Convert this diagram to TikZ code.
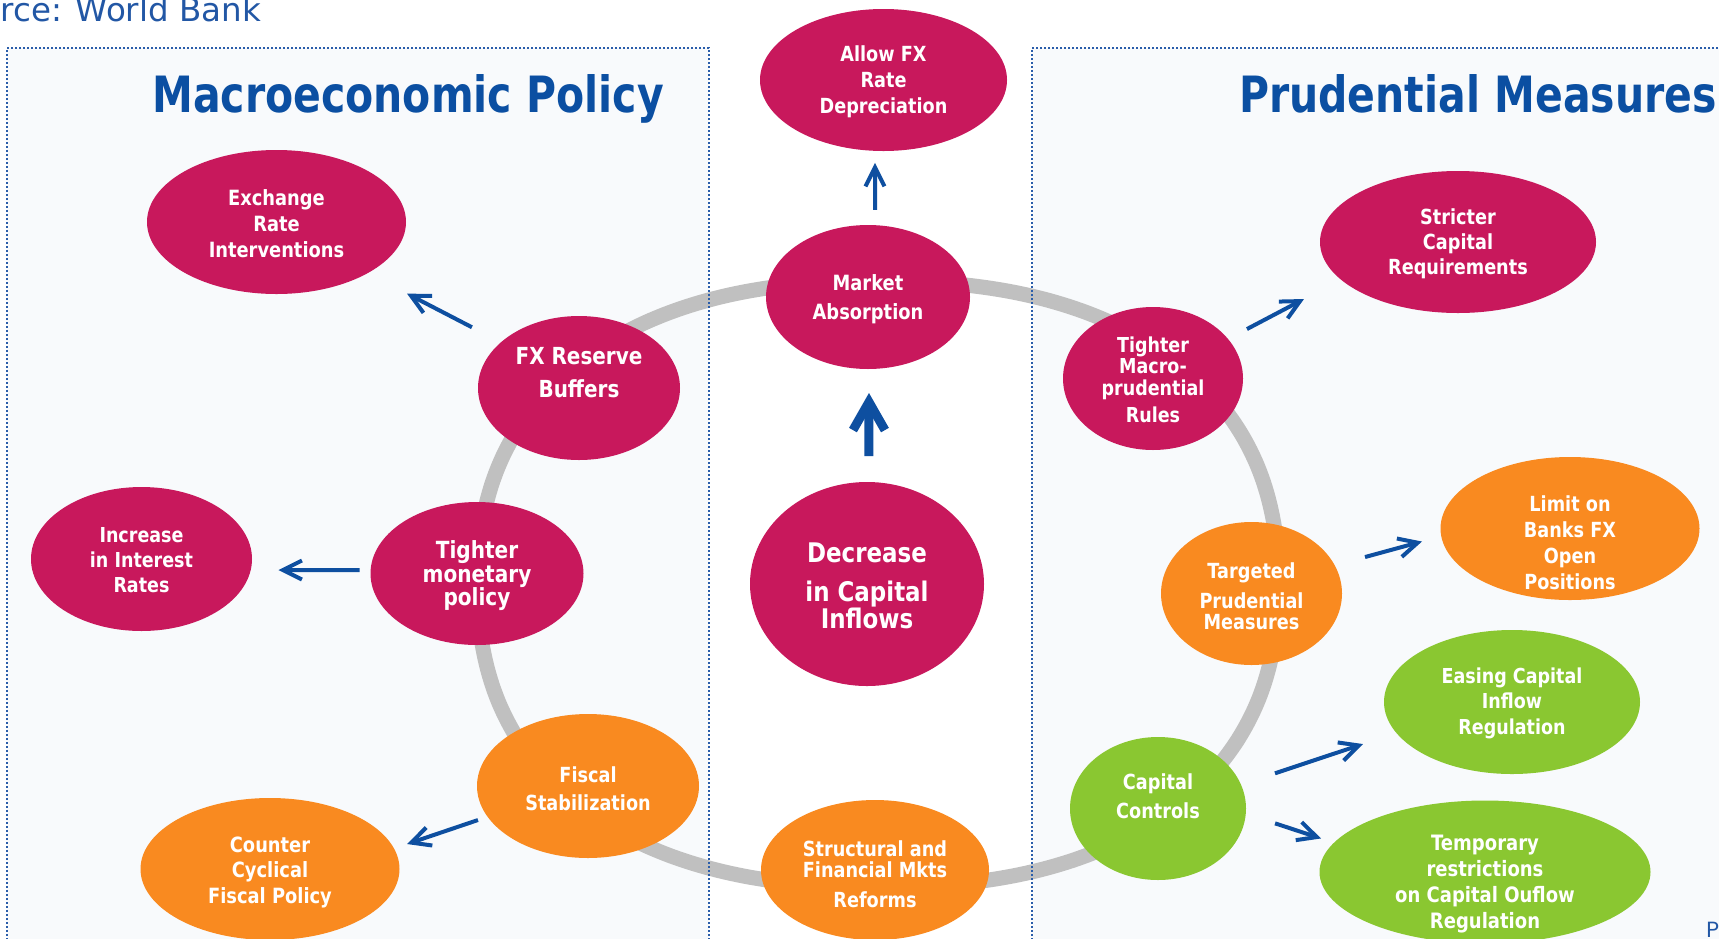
\documentclass[tikz,border=0pt]{standalone}
\usepackage{fontspec}
\usetikzlibrary{shapes.geometric,arrows.meta,calc}
\newfontfamily\nodefont[FakeStretch=0.85]{DejaVu Sans}
\newfontfamily\titlefont[FakeStretch=0.82]{DejaVu Sans}
\newfontfamily\srcfont{DejaVu Sans}
\newfontfamily\pfont{Poppins}
\definecolor{mag}{HTML}{C8185C}
\definecolor{org}{HTML}{F98A20}
\definecolor{grn}{HTML}{8AC731}
\definecolor{arrblue}{HTML}{0E4FA0}
\definecolor{ttlblue}{HTML}{0B4FA2}
\definecolor{dotblue}{HTML}{2A5DAA}
\definecolor{srcblue}{HTML}{2257A5}
\definecolor{ringgray}{HTML}{C0C0C0}
\definecolor{panelbg}{HTML}{F8FAFC}
\tikzset{
  bub/.style n args={3}{ellipse, fill=#1, draw=none, inner sep=0pt, minimum width=#2*0.5pt, minimum height=#3*0.5pt},
  txt/.style n args={2}{text=white, align=center, inner sep=0pt, yshift=-1.25pt, font={\nodefont\bfseries\fontsize{#1pt}{#2pt}\selectfont}},
  arr/.style={draw=arrblue, line width=2pt, -{Straight Barb[length=9.5pt,width=9.5pt]}},
  bigarr/.style={draw=arrblue, line width=4.5pt, -{Straight Barb[length=14pt,width=16pt]}},
  panel/.style={fill=panelbg, draw=none},
  paneledge/.style={draw=dotblue, line width=1pt, dash pattern=on 1pt off 1pt},
  ringline/.style={draw=ringgray, line width=7.5pt},
  ttl/.style={text=ttlblue, inner sep=0pt, anchor=base, font={\titlefont\bfseries\fontsize{25pt}{30pt}\selectfont}},
}
\begin{document}
\begin{tikzpicture}[x=0.5pt,y=-0.5pt]
\useasboundingbox (0,0) rectangle (1719,938);
\clip (0,0) rectangle (1719,938);
\fill[white] (0,0) rectangle (1719,938);
\path[panel] (7,48) rectangle (709,960);
\path[panel] (1032,48) rectangle (1740,960);
% ring (slightly squarish ellipse)
\draw[ringline] plot[smooth cycle, domain=1:358, samples=120, variable=\t]
  ({878+400*sign(cos(\t))*pow(abs(cos(\t)),0.87)}, {584+303*sign(sin(\t))*pow(abs(sin(\t)),0.87)});
\draw[paneledge] (7,960) -- (7,48) -- (709,48) -- (709,960);
\draw[paneledge] (1032,960) -- (1032,48) -- (1740,48);
% titles
\node[anchor=base west, inner sep=0pt, text=srcblue, font={\srcfont\fontsize{16.25pt}{20pt}\selectfont}] (src) at (-61,21) {Source: World Bank};
\node[ttl] (t1) at (408,112) {Macroeconomic Policy};
\node[ttl] (t2) at (1478,112) {Prudential Measures};
\node[anchor=north west, inner sep=0pt, text=srcblue, font={\pfont\fontsize{11pt}{13pt}\selectfont}] (pg) at (1706,922) {P};
% bubbles
\node[bub={mag}{247}{142}] (allow) at (883.5,80) {};
\node[bub={mag}{204}{144}] (mkt) at (868,297) {};
\node[bub={mag}{234}{204}] (dec) at (867,584) {};
\node[bub={mag}{202}{144}] (fx) at (579,388) {};
\node[bub={mag}{259}{144}] (exch) at (276.5,222) {};
\node[bub={mag}{213}{143}] (tmp) at (477,573.5) {};
\node[bub={mag}{221}{144}] (inc) at (141.5,559) {};
\node[bub={org}{222}{144}] (fisc) at (588,786) {};
\node[bub={org}{259}{142}] (ccf) at (270,869) {};
\node[bub={org}{228}{140}] (struct) at (875,870) {};
\node[bub={mag}{180}{143}] (tmr) at (1153,378.5) {};
\node[bub={mag}{276}{142}] (scr) at (1458,242) {};
\node[bub={org}{181}{143}] (tpm) at (1251.5,593.5) {};
\node[bub={org}{259}{143}] (lim) at (1570,528.5) {};
\node[bub={grn}{176}{143}] (cc) at (1158,808.5) {};
\node[bub={grn}{256}{144}] (eci) at (1512,702) {};
\node[bub={grn}{331}{143}] (tr) at (1485,872) {};
% texts
\node[txt={10.4}{13}] (allow-t) at (883.5,79) {Allow FX\\Rate\\Depreciation};
\node[txt={10.5}{14.5}] (mkt-t) at (868,296.5) {Market\\Absorption};
\node[txt={13.5}{13.5}] (dec-t) at (867,583) {Decrease\\[6pt]in Capital\\Inflows};
\node[txt={11.75}{16.5}] (fx-t) at (579,370.5) {FX Reserve\\Buffers};
\node[txt={10.5}{13}] (exch-t) at (276.5,221) {Exchange\\Rate\\Interventions};
\node[txt={11.8}{11.75}] (tmp-t) at (477,573.5) {Tighter\\monetary\\policy};
\node[txt={10.3}{12.5}] (inc-t) at (141.5,558) {Increase\\in Interest\\Rates};
\node[txt={10.4}{14}] (fisc-t) at (588,786) {Fiscal\\Stabilization};
\node[txt={10.5}{12.75}] (ccf-t) at (270,869.5) {Counter\\Cyclical\\Fiscal Policy};
\node[txt={10.4}{10.5}] (struct-t) at (875,871.5) {Structural and\\Financial Mkts\\[4.5pt]Reforms};
\node[txt={10.3}{10.75}] (tmr-t) at (1153,377.5) {Tighter\\Macro-\\prudential\\[3pt]Rules};
\node[txt={10.4}{12.5}] (scr-t) at (1458,241) {Stricter\\Capital\\Requirements};
\node[txt={10.4}{10.5}] (tpm-t) at (1251.5,593.5) {Targeted\\[4.5pt]Prudential\\Measures};
\node[txt={10.4}{13}] (lim-t) at (1570,540) {Limit on\\Banks FX\\Open\\Positions};
\node[txt={10.4}{14.5}] (cc-t) at (1158,793.5) {Capital\\Controls};
\node[txt={10.3}{12.75}] (eci-t) at (1512,700.5) {Easing Capital\\Inflow\\Regulation};
\node[txt={10.6}{12.85}] (tr-t) at (1485,881.5) {Temporary\\restrictions\\on Capital Ouflow\\Regulation};
% arrows
\draw[arr] ($(mkt)!0.401!(allow)+(0.8,0)$) -- ($(mkt)!0.618!(allow)+(-2.6,0)$);
\draw[bigarr] ($(dec)!0.446!(mkt)+(1.5,0)$) -- ($(dec)!0.6655!(mkt)+(1.3,0)$);
\draw[arr] ($(fx)!0.354!(exch)+(0,-2)$) -- ($(fx)!0.5686!(exch)$);
\draw[arr] ($(tmp)!0.35!(inc)+(0,1.6)$) -- ($(tmp)!0.5917!(inc)+(0,5.1)$);
\draw[arr] ($(fisc)!0.346!(ccf)+(0,5.3)$) -- ($(fisc)!0.569!(ccf)+(0,10.8)$);
\draw[arr] ($(tmr)!0.308!(scr)+(0,-7.4)$) -- ($(tmr)!0.495!(scr)+(0,-11.9)$);
\draw[arr] ($(tpm)!0.3564!(lim)+(0,-13.3)$) -- ($(tpm)!0.5353!(lim)+(0,-17.2)$);
\draw[arr] ($(cc)!0.3305!(eci)$) -- ($(cc)!0.579!(eci)+(0,-2.8)$);
\draw[arr] ($(cc)!0.358!(tr)+(0,-7.9)$) -- ($(cc)!0.4985!(tr)+(0,-1.7)$);
\end{tikzpicture}
\end{document}
